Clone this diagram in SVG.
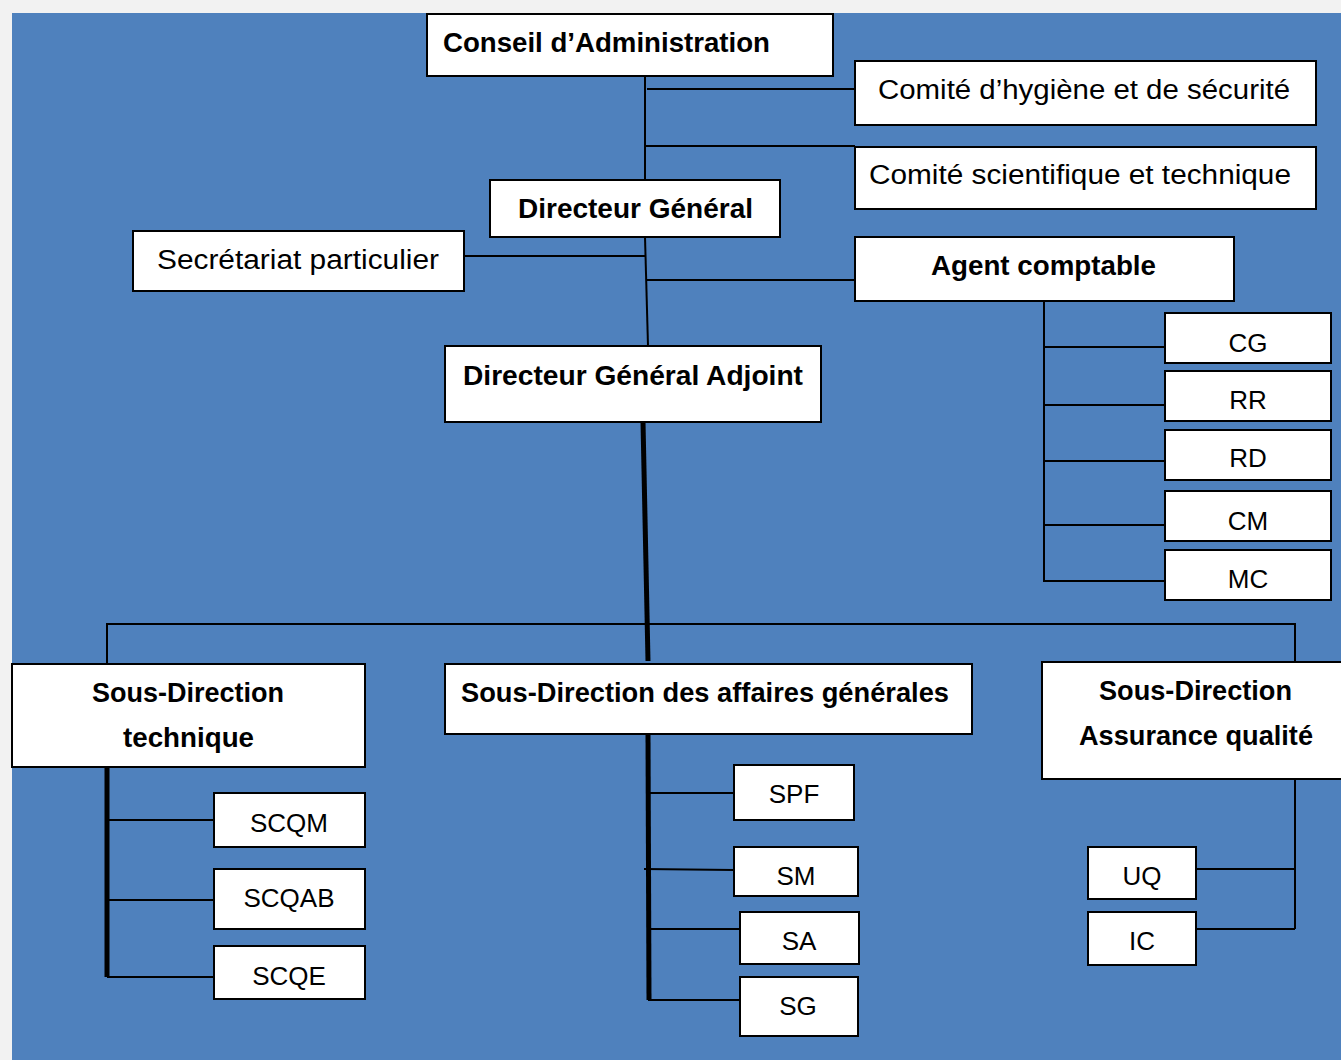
<svg xmlns="http://www.w3.org/2000/svg" width="1341" height="1060" viewBox="0 0 1341 1060">
<style>
.box{fill:#fff;stroke:#000;stroke-width:2}
.t{font-family:"Liberation Sans",Arial,sans-serif;font-size:27px;fill:#000}
.b{font-weight:700}
.s{font-size:26px}
.ln{stroke:#000;stroke-width:2;fill:none}
.th{stroke:#000;stroke-width:5;fill:none}
</style>
<rect x="0" y="0" width="1341" height="1060" fill="#f2f2f2"/>
<rect x="12" y="13" width="1329" height="1047" fill="#4f81bd"/>
<g id="connectors">
<line class="ln" x1="645" y1="76" x2="645" y2="180"/>
<line class="ln" x1="647" y1="89" x2="855" y2="89"/>
<line class="ln" x1="645" y1="146" x2="855" y2="146"/>
<line class="ln" x1="464" y1="256" x2="645" y2="256"/>
<line class="ln" x1="645" y1="237" x2="648" y2="346"/>
<line class="ln" x1="646" y1="280" x2="855" y2="280"/>
<line class="ln" x1="1044" y1="295" x2="1044" y2="581"/>
<line class="ln" x1="1044" y1="347" x2="1164" y2="347"/>
<line class="ln" x1="1044" y1="405" x2="1164" y2="405"/>
<line class="ln" x1="1044" y1="461" x2="1164" y2="461"/>
<line class="ln" x1="1044" y1="525" x2="1164" y2="525"/>
<line class="ln" x1="1043" y1="581" x2="1164" y2="581"/>
<line class="th" x1="643" y1="422" x2="648" y2="661"/>
<polyline class="ln" points="107,664 107,624 1295,624 1295,662"/>
<line class="th" x1="107" y1="767" x2="107" y2="977"/>
<line class="ln" x1="107" y1="820" x2="214" y2="820"/>
<line class="ln" x1="107" y1="900" x2="214" y2="900"/>
<line class="ln" x1="107" y1="977" x2="214" y2="977"/>
<line class="th" x1="648" y1="734" x2="649" y2="1000"/>
<line class="ln" x1="648" y1="793" x2="734" y2="793"/>
<line class="ln" x1="644" y1="869" x2="734" y2="870"/>
<line class="ln" x1="648" y1="929" x2="743" y2="929"/>
<line class="ln" x1="648" y1="1000" x2="740" y2="1000"/>
<line class="ln" x1="1295" y1="779" x2="1295" y2="929"/>
<line class="ln" x1="1196" y1="869" x2="1295" y2="869"/>
<line class="ln" x1="1196" y1="929" x2="1295" y2="929"/>
</g>
<g id="conseil"><rect class="box" x="427" y="14" width="406" height="62"/><text class="t b" x="443" y="52" textLength="327" lengthAdjust="spacingAndGlyphs">Conseil d’Administration</text></g>
<g id="comite-hygiene"><rect class="box" x="855" y="61" width="461" height="64"/><text class="t" x="878" y="99" textLength="412" lengthAdjust="spacingAndGlyphs">Comité d’hygiène et de sécurité</text></g>
<g id="comite-scientifique"><rect class="box" x="855" y="147" width="461" height="62"/><text class="t" x="869" y="184" textLength="422" lengthAdjust="spacingAndGlyphs">Comité scientifique et technique</text></g>
<g id="dg"><rect class="box" x="490" y="180" width="290" height="57"/><text class="t b" x="518" y="218" textLength="235" lengthAdjust="spacingAndGlyphs">Directeur Général</text></g>
<g id="secretariat"><rect class="box" x="133" y="231" width="331" height="60"/><text class="t" x="157" y="269" textLength="282" lengthAdjust="spacingAndGlyphs">Secrétariat particulier</text></g>
<g id="agent-comptable"><rect class="box" x="855" y="237" width="379" height="64"/><text class="t b" x="931" y="275" textLength="225" lengthAdjust="spacingAndGlyphs">Agent comptable</text></g>
<g id="cg"><rect class="box" x="1165" y="313" width="166" height="50"/><text class="t s" x="1248" y="352" text-anchor="middle">CG</text></g>
<g id="rr"><rect class="box" x="1165" y="371" width="166" height="50"/><text class="t s" x="1248" y="409" text-anchor="middle">RR</text></g>
<g id="rd"><rect class="box" x="1165" y="430" width="166" height="50"/><text class="t s" x="1248" y="467" text-anchor="middle">RD</text></g>
<g id="cm"><rect class="box" x="1165" y="491" width="166" height="50"/><text class="t s" x="1248" y="530" text-anchor="middle">CM</text></g>
<g id="mc"><rect class="box" x="1165" y="550" width="166" height="50"/><text class="t s" x="1248" y="588" text-anchor="middle">MC</text></g>
<g id="dga"><rect class="box" x="445" y="346" width="376" height="76"/><text class="t b" x="463" y="385" textLength="340" lengthAdjust="spacingAndGlyphs">Directeur Général Adjoint</text></g>
<g id="sd-technique"><rect class="box" x="12" y="664" width="353" height="103"/><text class="t b" x="92" y="702" textLength="192" lengthAdjust="spacingAndGlyphs">Sous-Direction</text><text class="t b" x="123" y="747" textLength="131" lengthAdjust="spacingAndGlyphs">technique</text></g>
<g id="scqm"><rect class="box" x="214" y="793" width="151" height="54"/><text class="t s" x="289" y="832" text-anchor="middle">SCQM</text></g>
<g id="scqab"><rect class="box" x="214" y="869" width="151" height="60"/><text class="t s" x="289" y="907" text-anchor="middle">SCQAB</text></g>
<g id="scqe"><rect class="box" x="214" y="946" width="151" height="53"/><text class="t s" x="289" y="985" text-anchor="middle">SCQE</text></g>
<g id="sd-affaires"><rect class="box" x="445" y="664" width="527" height="70"/><text class="t b" x="461" y="702" textLength="488" lengthAdjust="spacingAndGlyphs">Sous-Direction des affaires générales</text></g>
<g id="spf"><rect class="box" x="734" y="765" width="120" height="55"/><text class="t s" x="794" y="803" text-anchor="middle">SPF</text></g>
<g id="sm"><rect class="box" x="734" y="847" width="124" height="49"/><text class="t s" x="796" y="885" text-anchor="middle">SM</text></g>
<g id="sa"><rect class="box" x="740" y="912" width="119" height="52"/><text class="t s" x="799" y="950" text-anchor="middle">SA</text></g>
<g id="sg"><rect class="box" x="740" y="977" width="118" height="59"/><text class="t s" x="798" y="1015" text-anchor="middle">SG</text></g>
<g id="sd-assurance"><rect class="box" x="1042" y="662" width="310" height="117"/><text class="t b" x="1099" y="700" textLength="193" lengthAdjust="spacingAndGlyphs">Sous-Direction</text><text class="t b" x="1079" y="745" textLength="234" lengthAdjust="spacingAndGlyphs">Assurance qualité</text></g>
<g id="uq"><rect class="box" x="1088" y="847" width="108" height="52"/><text class="t s" x="1142" y="885" text-anchor="middle">UQ</text></g>
<g id="ic"><rect class="box" x="1088" y="912" width="108" height="53"/><text class="t s" x="1142" y="950" text-anchor="middle">IC</text></g>
</svg>
